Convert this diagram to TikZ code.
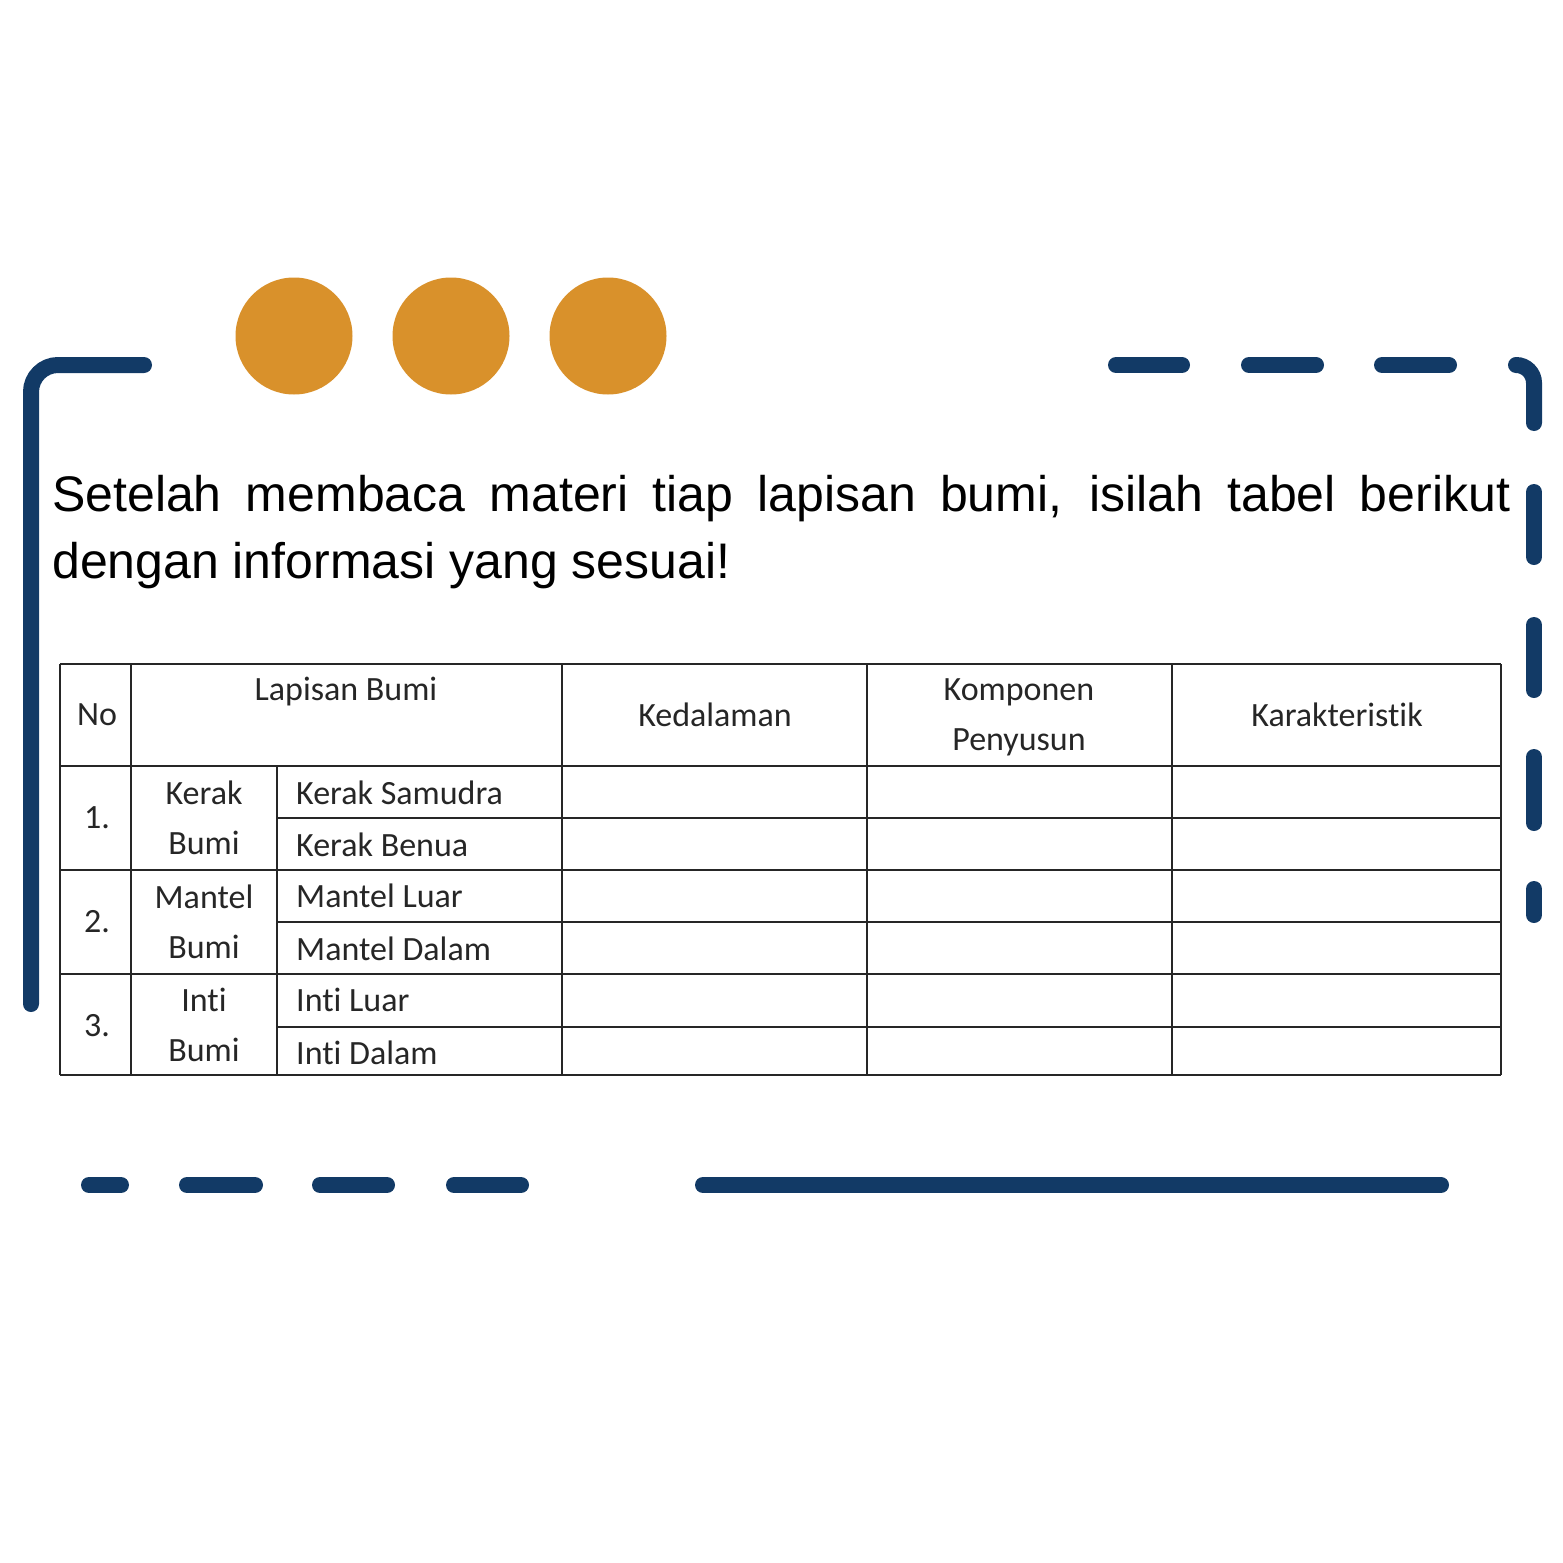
\documentclass[tikz,border=0pt]{standalone}
\usepackage{fontspec}
\setmainfont{Liberation Sans}
\newfontfamily\tabfont[Ligatures=NoCommon]{Carlito}
\usepackage{xcolor}
\usetikzlibrary{positioning}

\definecolor{navy}{HTML}{123A66}
\definecolor{ochre}{HTML}{D9912B}

\begin{document}
\begin{tikzpicture}[
        x=1pt, y=-1pt,
        frame/.style={draw=navy, line width=16pt, line cap=round},
        dot/.style={circle, fill=ochre, minimum size=117pt, inner sep=0pt},
        grid/.style={draw=black!85, line width=2pt},
        cell/.style={font=\tabfont\fontsize{34}{50}\selectfont, text=black!85,
                     inner sep=0pt, align=center},
        sub/.style={cell, anchor=west}
    ]
        \useasboundingbox (0,0) rectangle (1563,1563);

        % dots
        \node[dot] (dotA) at (294,336) {};
        \node[dot] (dotB) at (451,336) {};
        \node[dot] (dotC) at (608,336) {};

        % frame
        \draw[frame, rounded corners=27pt] (144,365) -- (31,365) -- (31,1004);
        \draw[frame] (1116,365) -- (1182,365);
        \draw[frame] (1249,365) -- (1316,365);
        \draw[frame] (1382,365) -- (1449,365);
        \draw[frame, rounded corners=18pt] (1516,365) -- (1534,365) -- (1534,423);
        \draw[frame] (1534,492) -- (1534,557);
        \draw[frame] (1534,625) -- (1534,690);
        \draw[frame] (1534,757) -- (1534,823);
        \draw[frame] (1534,889) -- (1534,915);
        \draw[frame] (89,1185) -- (121,1185);
        \draw[frame] (187,1185) -- (255,1185);
        \draw[frame] (320,1185) -- (387,1185);
        \draw[frame] (454,1185) -- (521,1185);
        \draw[frame] (703,1185) -- (1441,1185);

        % instruction
        \node[anchor=north west, inner sep=0pt, text width=1458pt, align=justify,
              font=\fontsize{50}{67}\selectfont,
              execute at begin node={\tolerance=10000 \hyphenpenalty=10000 }]
              (intro) at (52,475)
              {Setelah membaca materi tiap lapisan bumi, isilah tabel berikut dengan informasi yang sesuai!};

        % table
        \foreach \y in {664,766,870,974,1075}
            \draw[grid] (60,\y) -- (1501,\y);
        \foreach \y in {818,922,1027}
            \draw[grid] (277,\y) -- (1501,\y);
        \foreach \x in {60,131,562,867,1172,1501}
            \draw[grid] (\x,664) -- (\x,1075);
        \draw[grid] (277,766) -- (277,1075);

        \node[cell] (no)    at (97,715)   {No};
        \node[cell] (lapis) at (346,692)  {Lapisan Bumi};
        \node[cell] (dalam) at (715,715)  {Kedalaman};
        \node[cell] (komp)  at (1019,717) {Komponen\\Penyusun};
        \node[cell] (karak) at (1337,715) {Karakteristik};

        \node[cell] (n1) at (97,818)  {1.};
        \node[cell] (n2) at (97,922)  {2.};
        \node[cell] (n3) at (97,1026) {3.};

        \node[cell] (kerak)  at (204,818)  {Kerak\\Bumi};
        \node[cell] (mantel) at (204,922)  {Mantel\\Bumi};
        \node[cell] (inti)   at (204,1025) {Inti\\Bumi};

        \node[sub] (ksam) at (296,793)  {Kerak Samudra};
        \node[sub] (kben) at (296,845)  {Kerak Benua};
        \node[sub] (mlua) at (296,896)  {Mantel Luar};
        \node[sub] (mdal) at (296,949)  {Mantel Dalam};
        \node[sub] (ilua) at (296,1000) {Inti Luar};
        \node[sub] (idal) at (296,1053) {Inti Dalam};
    \end{tikzpicture}
\end{document}
